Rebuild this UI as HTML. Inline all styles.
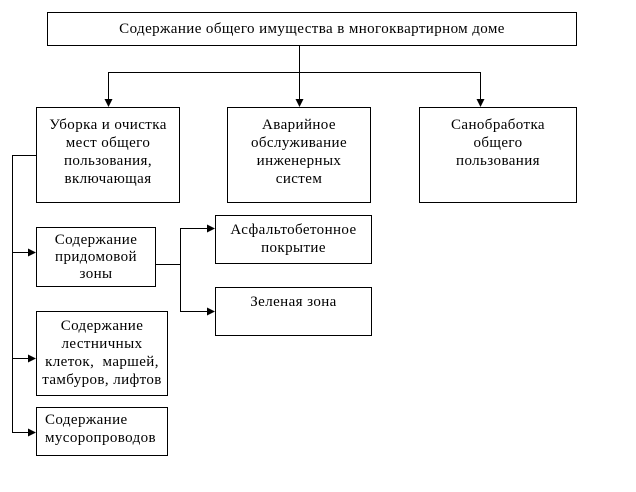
<!DOCTYPE html>
<html><head><meta charset="utf-8"><style>
body{margin:0;background:#fff;width:636px;height:492px;position:relative;overflow:hidden;font-family:"Liberation Serif",serif;font-size:15px;letter-spacing:0.4px;color:#000}
.b{position:absolute;border:1px solid #000;box-sizing:border-box;text-align:center;line-height:18px;background:#fff;white-space:nowrap}
svg{position:absolute;left:0;top:0}
</style></head><body>
<svg width="636" height="492">
<defs><marker id="a" markerWidth="8" markerHeight="8" refX="7" refY="4" orient="auto" markerUnits="userSpaceOnUse"><path d="M0,0 L8,4 L0,8 z" fill="#000"/></marker></defs>
<g stroke="#000" stroke-width="1" fill="none">
<line x1="299.5" y1="45" x2="299.5" y2="72.5"/>
<line x1="108.5" y1="72.5" x2="480.5" y2="72.5"/>
<line x1="108.5" y1="72" x2="108.5" y2="106" marker-end="url(#a)"/>
<line x1="299.5" y1="72" x2="299.5" y2="106" marker-end="url(#a)"/>
<line x1="480.5" y1="72" x2="480.5" y2="106" marker-end="url(#a)"/>
<line x1="36" y1="155.5" x2="12.5" y2="155.5"/>
<line x1="12.5" y1="155" x2="12.5" y2="432.5"/>
<line x1="12" y1="252.5" x2="35" y2="252.5" marker-end="url(#a)"/>
<line x1="12" y1="358.5" x2="35" y2="358.5" marker-end="url(#a)"/>
<line x1="12" y1="432.5" x2="35" y2="432.5" marker-end="url(#a)"/>
<line x1="155" y1="264.5" x2="180.5" y2="264.5"/>
<line x1="180.5" y1="228" x2="180.5" y2="311.5"/>
<line x1="180" y1="228.5" x2="214" y2="228.5" marker-end="url(#a)"/>
<line x1="180" y1="311.5" x2="214" y2="311.5" marker-end="url(#a)"/>
</g></svg>
<div class="b" style="left:47px;top:12px;width:530px;height:34px;line-height:32px">Содержание общего имущества в многоквартирном доме</div>
<div class="b" style="left:36px;top:107px;width:144px;height:96px;padding-top:8px">Уборка и очистка<br>мест общего<br>пользования,<br>включающая</div>
<div class="b" style="left:227px;top:107px;width:144px;height:96px;padding-top:8px">Аварийное<br>обслуживание<br>инженерных<br>систем</div>
<div class="b" style="left:419px;top:107px;width:158px;height:96px;padding-top:8px">Санобработка<br>общего<br>пользования</div>
<div class="b" style="left:36px;top:227px;width:120px;height:60px;padding-top:4px;line-height:17px">Содержание<br>придомовой<br>зоны</div>
<div class="b" style="left:215px;top:215px;width:157px;height:49px;padding-top:5px">Асфальтобетонное<br>покрытие</div>
<div class="b" style="left:215px;top:287px;width:157px;height:49px;padding-top:5px">Зеленая зона</div>
<div class="b" style="left:36px;top:311px;width:132px;height:85px;padding-top:5px">Содержание<br>лестничных<br>клеток,&nbsp; маршей,<br>тамбуров, лифтов</div>
<div class="b" style="left:36px;top:407px;width:132px;height:49px;padding-top:3px;text-align:left;padding-left:8px">Содержание<br>мусоропроводов</div>
</body></html>
